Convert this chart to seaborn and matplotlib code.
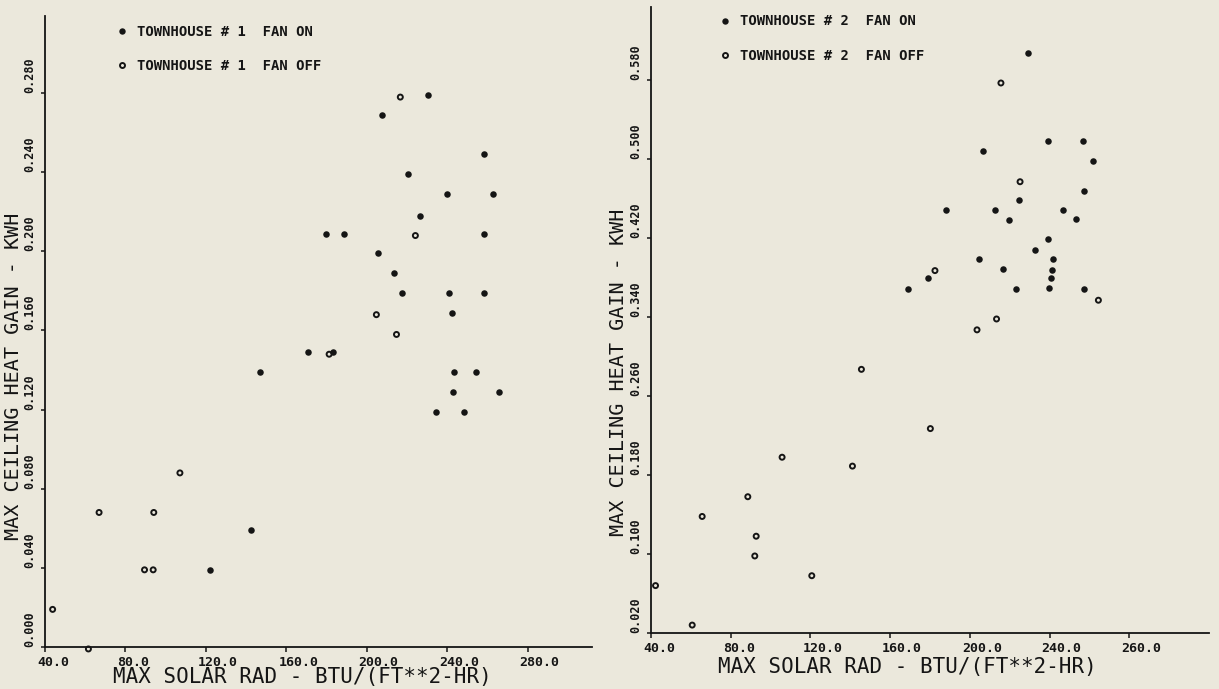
import matplotlib
matplotlib.use('Agg')
import matplotlib.pyplot as plt
import matplotlib.transforms as mtransforms
from matplotlib.lines import Line2D
import seaborn as sns

paper = '#ebe8dc'
ink = '#151515'

sns.set_theme(style='ticks', rc={
    'figure.facecolor': paper, 'axes.facecolor': paper,
    'axes.edgecolor': ink, 'xtick.color': ink, 'ytick.color': ink,
    'text.color': ink, 'axes.labelcolor': ink,
})
plt.rcParams['font.family'] = ['DejaVu Sans Mono']

# townhouse 1
th1_on_x = [230.5, 207.6, 258.2, 220.6, 240.1, 262.9, 226.3, 179.9, 188.9, 258.4,
            205.4, 213.8, 217.5, 241.1, 258.5, 242.2, 170.8, 183.3, 146.8, 243.2,
            254.5, 242.9, 265.9, 234.5, 248.3, 142.4, 122.0]
th1_on_y = [0.279, 0.269, 0.249, 0.239, 0.229, 0.229, 0.218, 0.209, 0.209, 0.209,
            0.199, 0.189, 0.179, 0.179, 0.179, 0.169, 0.149, 0.149, 0.139, 0.139,
            0.139, 0.129, 0.129, 0.119, 0.119, 0.059, 0.039]
th1_off_x = [216.7, 224.2, 204.8, 214.8, 181.3, 107.1, 66.9, 94.1, 89.5, 93.8, 43.8, 61.6]
th1_off_y = [0.278, 0.208, 0.168, 0.158, 0.148, 0.088, 0.068, 0.068, 0.039, 0.039, 0.019, -0.001]

# townhouse 2
th2_on_x = [229.4, 239.0, 257.0, 206.8, 261.6, 257.3, 224.9, 187.8, 212.4, 246.6,
            219.4, 253.1, 239.4, 232.8, 204.5, 241.6, 216.5, 241.3, 240.9, 178.9,
            169.1, 223.1, 239.7, 257.3]
th2_on_y = [0.607, 0.518, 0.518, 0.508, 0.498, 0.468, 0.459, 0.448, 0.448, 0.448,
            0.438, 0.439, 0.419, 0.408, 0.399, 0.399, 0.389, 0.388, 0.379, 0.379,
            0.368, 0.368, 0.369, 0.368]
th2_off_x = [215.6, 225.2, 182.5, 264.5, 213.4, 203.6, 145.6, 180.2, 105.8, 141.1,
             88.6, 65.7, 92.8, 92.1, 120.7, 42.3, 60.7]
th2_off_y = [0.577, 0.477, 0.387, 0.357, 0.338, 0.327, 0.287, 0.227, 0.198, 0.189,
             0.158, 0.138, 0.118, 0.098, 0.078, 0.068, 0.028]

x_ticks = [40, 80, 120, 160, 200, 240, 280]
th1_x_labels = ['40.0', '80.0', '120.0', '160.0', '200.0', '240.0', '280.0']
th2_x_labels = ['40.0', '80.0', '120.0', '160.0', '200.0', '240.0', '260.0']
th1_y_ticks = [0.000, 0.040, 0.080, 0.120, 0.160, 0.200, 0.240, 0.280]
th2_y_ticks = [0.020, 0.100, 0.180, 0.260, 0.340, 0.420, 0.500, 0.580]


def panel(ax, house, on_x, on_y, off_x, off_y, xlim, ylim, yticks, xlabels,
          xlab_at, ylab_at, legend_at):
    sns.scatterplot(x=on_x, y=on_y, ax=ax, color=ink, marker='o', s=22,
                    linewidth=0, clip_on=False, zorder=3)
    sns.scatterplot(x=off_x, y=off_y, ax=ax, marker='o', s=13, facecolor='none',
                    edgecolor=ink, linewidth=1.4, clip_on=False, zorder=3)
    ax.set_xlim(xlim)
    ax.set_ylim(ylim)
    ax.set_xticks(x_ticks)
    ax.set_xticklabels(xlabels, fontsize=9.5, ha='left', fontweight='bold')
    ax.set_yticks(yticks)
    ax.set_yticklabels([f'{v:.3f}' for v in yticks], fontsize=8.5, fontweight='bold',
                       rotation=90, va='bottom', ha='right')
    ax.tick_params(axis='x', direction='out', length=3.8, width=1.1, pad=2.5)
    ax.tick_params(axis='y', direction='out', length=3, width=1.1, pad=3.0)
    shift = mtransforms.ScaledTranslation(-0.08, 0, ax.figure.dpi_scale_trans)
    for lab in ax.get_xticklabels():
        lab.set_transform(lab.get_transform() + shift)
    sns.despine(ax=ax)
    for side in ['left', 'bottom']:
        ax.spines[side].set_linewidth(1.3)

    ax.set_xlabel('MAX SOLAR RAD - BTU/(FT**2-HR)', fontsize=15)
    ax.xaxis.set_label_coords(*xlab_at)
    ax.set_ylabel('MAX CEILING HEAT GAIN - KWH', fontsize=14.5)
    ax.yaxis.set_label_coords(*ylab_at)

    handles = [
        Line2D([], [], ls='none', marker='o', ms=4.6, mfc=ink, mec=ink, mew=0),
        Line2D([], [], ls='none', marker='o', ms=3.6, mfc='none', mec=ink, mew=1.4),
    ]
    labels = [f'TOWNHOUSE # {house}  FAN ON', f'TOWNHOUSE # {house}  FAN OFF']
    leg = ax.legend(handles, labels, loc='upper left', bbox_to_anchor=legend_at,
                    frameon=False, fontsize=10, handlelength=1, handletextpad=0.58,
                    labelspacing=1.45, borderpad=0, borderaxespad=0)
    for t in leg.get_texts():
        t.set_fontweight('bold')


fig = plt.figure(figsize=(12.19, 6.89), dpi=100)
ax1 = fig.add_axes([0.0369, 0.061, 0.4487, 0.9158])
ax2 = fig.add_axes([0.534, 0.0813, 0.4578, 0.9086])

panel(ax1, 1, th1_on_x, th1_on_y, th1_off_x, th1_off_y,
      (40, 312), (0, 0.319), th1_y_ticks, th1_x_labels,
      (0.4706, -0.0325), (-0.040, 0.429), (0.1275, 0.9854))
panel(ax2, 2, th2_on_x, th2_on_y, th2_off_x, th2_off_y,
      (40, 320), (0.020, 0.654), th2_y_ticks, th2_x_labels,
      (0.4597, -0.039), (-0.041, 0.417), (0.1203, 0.988))

fig.savefig('out.png', dpi=100, facecolor=paper)
